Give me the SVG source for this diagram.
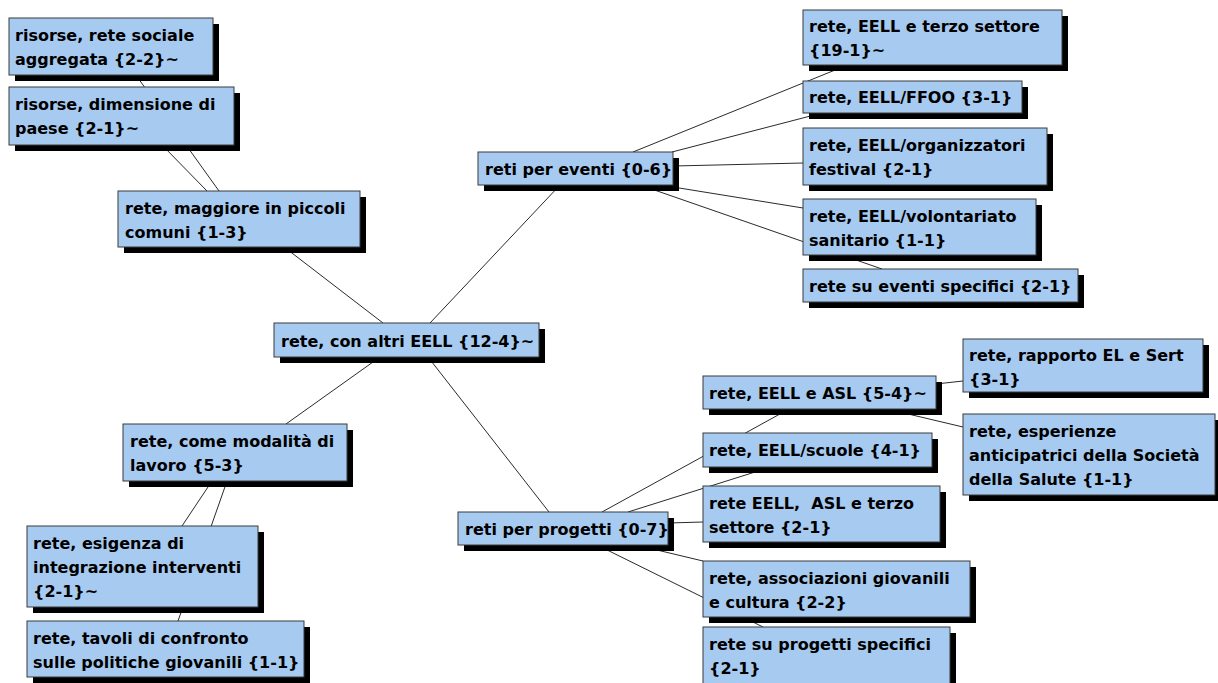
<svg xmlns="http://www.w3.org/2000/svg" width="1218" height="683" viewBox="0 0 1218 683">
  <style>
    .bg { fill: #ffffff; }
    .link { stroke: #2a2a2a; stroke-width: 1; fill: none; }
    .shadow { fill: #000000; }
    .box { fill: #a6caf0; stroke: #3a3a3a; stroke-width: 1; }
    .lbl { font-family: "DejaVu Sans", Verdana, sans-serif; font-weight: bold; font-size: 16px; fill: #000000; }
  </style>
  <rect class="bg" x="0" y="0" width="1218" height="683"/>

  <!-- connectors, drawn beneath the boxes -->
  <g id="connectors">
    <line class="link" x1="219" y1="191" x2="138" y2="78"/>
    <line class="link" x1="207" y1="191" x2="162" y2="145"/>
    <line class="link" x1="288" y1="250" x2="383" y2="323"/>
    <line class="link" x1="430" y1="323" x2="560" y2="185"/>
    <line class="link" x1="380" y1="357" x2="286" y2="424"/>
    <line class="link" x1="428" y1="357" x2="549" y2="512"/>
    <line class="link" x1="212" y1="481" x2="182" y2="526"/>
    <line class="link" x1="227" y1="481" x2="178" y2="621"/>
    <line class="link" x1="633" y1="152" x2="845" y2="66"/>
    <line class="link" x1="672" y1="152" x2="822" y2="113"/>
    <line class="link" x1="673" y1="166" x2="803" y2="163"/>
    <line class="link" x1="673" y1="187" x2="803" y2="208"/>
    <line class="link" x1="640" y1="185" x2="882" y2="269"/>
    <line class="link" x1="602" y1="512" x2="789" y2="409"/>
    <line class="link" x1="628" y1="512" x2="771" y2="467"/>
    <line class="link" x1="668" y1="523" x2="703" y2="522"/>
    <line class="link" x1="636" y1="545" x2="703" y2="561"/>
    <line class="link" x1="597" y1="545" x2="763" y2="627"/>
    <line class="link" x1="936" y1="384" x2="963" y2="381"/>
    <line class="link" x1="887" y1="409" x2="963" y2="427"/>
  </g>

  <g id="n-risorse-rete-sociale">
    <rect class="shadow" x="15" y="24" width="204" height="57"/>
    <rect class="box" x="9" y="18" width="204" height="57"/>
    <text class="lbl" x="15" y="41">risorse, rete sociale</text>
    <text class="lbl" x="15" y="65">aggregata {2-2}~</text>
  </g>

  <g id="n-risorse-dimensione">
    <rect class="shadow" x="15" y="93" width="225" height="58"/>
    <rect class="box" x="9" y="87" width="225" height="58"/>
    <text class="lbl" x="15" y="110">risorse, dimensione di</text>
    <text class="lbl" x="15" y="134">paese {2-1}~</text>
  </g>

  <g id="n-maggiore-piccoli-comuni">
    <rect class="shadow" x="124" y="197" width="242" height="56"/>
    <rect class="box" x="118" y="191" width="242" height="56"/>
    <text class="lbl" x="125" y="214">rete, maggiore in piccoli</text>
    <text class="lbl" x="125" y="238">comuni {1-3}</text>
  </g>

  <g id="n-altri-eell">
    <rect class="shadow" x="280" y="329" width="265" height="34"/>
    <rect class="box" x="274" y="323" width="265" height="34"/>
    <text class="lbl" x="281" y="347">rete, con altri EELL {12-4}~</text>
  </g>

  <g id="n-modalita-lavoro">
    <rect class="shadow" x="129" y="430" width="224" height="57"/>
    <rect class="box" x="123" y="424" width="224" height="57"/>
    <text class="lbl" x="130" y="447">rete, come modalità di</text>
    <text class="lbl" x="130" y="471">lavoro {5-3}</text>
  </g>

  <g id="n-esigenza-integrazione">
    <rect class="shadow" x="33" y="532" width="231" height="81"/>
    <rect class="box" x="27" y="526" width="231" height="81"/>
    <text class="lbl" x="33" y="549">rete, esigenza di</text>
    <text class="lbl" x="33" y="573">integrazione interventi</text>
    <text class="lbl" x="33" y="597">{2-1}~</text>
  </g>

  <g id="n-tavoli-confronto">
    <rect class="shadow" x="33" y="627" width="277" height="56"/>
    <rect class="box" x="27" y="621" width="277" height="56"/>
    <text class="lbl" x="33" y="644">rete, tavoli di confronto</text>
    <text class="lbl" x="33" y="668">sulle politiche giovanili {1-1}</text>
  </g>

  <g id="n-reti-eventi">
    <rect class="shadow" x="484" y="158" width="195" height="33"/>
    <rect class="box" x="478" y="152" width="195" height="33"/>
    <text class="lbl" x="485" y="175">reti per eventi {0-6}</text>
  </g>

  <g id="n-eell-terzo-settore">
    <rect class="shadow" x="809" y="16" width="259" height="55"/>
    <rect class="box" x="803" y="10" width="259" height="55"/>
    <text class="lbl" x="809" y="32">rete, EELL e terzo settore</text>
    <text class="lbl" x="809" y="56">{19-1}~</text>
  </g>

  <g id="n-eell-ffoo">
    <rect class="shadow" x="809" y="87" width="219" height="32"/>
    <rect class="box" x="803" y="81" width="219" height="32"/>
    <text class="lbl" x="809" y="103">rete, EELL/FFOO {3-1}</text>
  </g>

  <g id="n-eell-organizzatori">
    <rect class="shadow" x="809" y="134" width="244" height="57"/>
    <rect class="box" x="803" y="128" width="244" height="57"/>
    <text class="lbl" x="809" y="151">rete, EELL/organizzatori</text>
    <text class="lbl" x="809" y="175">festival {2-1}</text>
  </g>

  <g id="n-eell-volontariato">
    <rect class="shadow" x="809" y="205" width="233" height="56"/>
    <rect class="box" x="803" y="199" width="233" height="56"/>
    <text class="lbl" x="809" y="222">rete, EELL/volontariato</text>
    <text class="lbl" x="809" y="246">sanitario {1-1}</text>
  </g>

  <g id="n-eventi-specifici">
    <rect class="shadow" x="809" y="275" width="275" height="33"/>
    <rect class="box" x="803" y="269" width="275" height="33"/>
    <text class="lbl" x="809" y="292">rete su eventi specifici {2-1}</text>
  </g>

  <g id="n-reti-progetti">
    <rect class="shadow" x="464" y="518" width="210" height="33"/>
    <rect class="box" x="458" y="512" width="210" height="33"/>
    <text class="lbl" x="465" y="535">reti per progetti {0-7}</text>
  </g>

  <g id="n-eell-asl">
    <rect class="shadow" x="709" y="382" width="233" height="33"/>
    <rect class="box" x="703" y="376" width="233" height="33"/>
    <text class="lbl" x="709" y="399">rete, EELL e ASL {5-4}~</text>
  </g>

  <g id="n-rapporto-sert">
    <rect class="shadow" x="969" y="345" width="240" height="53"/>
    <rect class="box" x="963" y="339" width="240" height="53"/>
    <text class="lbl" x="969" y="361">rete, rapporto EL e Sert</text>
    <text class="lbl" x="969" y="385">{3-1}</text>
  </g>

  <g id="n-esperienze-anticipatrici">
    <rect class="shadow" x="969" y="420" width="252" height="81"/>
    <rect class="box" x="963" y="414" width="252" height="81"/>
    <text class="lbl" x="969" y="437">rete, esperienze</text>
    <text class="lbl" x="969" y="461">anticipatrici della Società</text>
    <text class="lbl" x="969" y="485">della Salute {1-1}</text>
  </g>

  <g id="n-eell-scuole">
    <rect class="shadow" x="709" y="439" width="229" height="34"/>
    <rect class="box" x="703" y="433" width="229" height="34"/>
    <text class="lbl" x="709" y="456">rete, EELL/scuole {4-1}</text>
  </g>

  <g id="n-eell-asl-terzo">
    <rect class="shadow" x="709" y="492" width="237" height="56"/>
    <rect class="box" x="703" y="486" width="237" height="56"/>
    <text class="lbl" x="709" y="509" xml:space="preserve">rete EELL,  ASL e terzo</text>
    <text class="lbl" x="709" y="533">settore {2-1}</text>
  </g>

  <g id="n-associazioni-cultura">
    <rect class="shadow" x="709" y="567" width="267" height="56"/>
    <rect class="box" x="703" y="561" width="267" height="56"/>
    <text class="lbl" x="709" y="584">rete, associazioni giovanili</text>
    <text class="lbl" x="709" y="608">e cultura {2-2}</text>
  </g>

  <g id="n-progetti-specifici">
    <rect class="shadow" x="709" y="633" width="247" height="60"/>
    <rect class="box" x="703" y="627" width="247" height="60"/>
    <text class="lbl" x="709" y="650">rete su progetti specifici</text>
    <text class="lbl" x="709" y="674">{2-1}</text>
  </g>
</svg>
